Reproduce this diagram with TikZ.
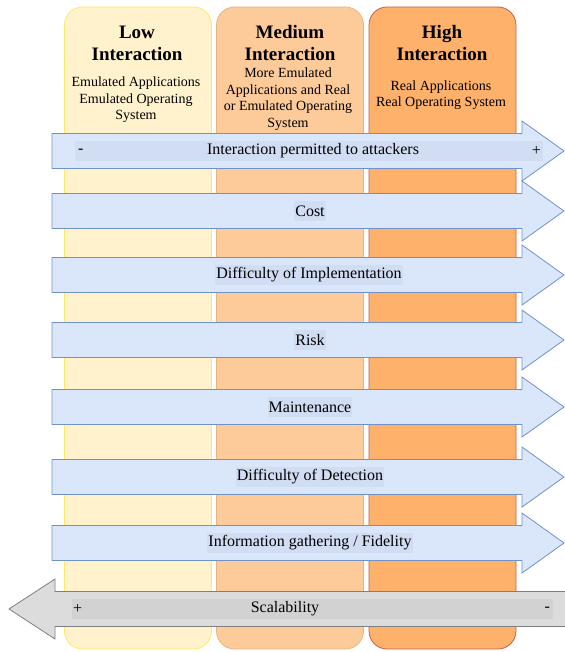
\documentclass[tikz,border=0pt]{standalone}
\usepackage{fontspec}
\setmainfont{Liberation Serif}
\usepackage{xcolor}

\definecolor{lowfill}{HTML}{FFF2CC}
\definecolor{lowline}{HTML}{FFE866}
\definecolor{medfill}{HTML}{FDCA9A}
\definecolor{medline}{HTML}{E8B57E}
\definecolor{highfill}{HTML}{FDB16B}
\definecolor{highline}{HTML}{C0604D}
\definecolor{arrfill}{HTML}{DAE7FA}
\definecolor{arrline}{HTML}{7092C8}
\definecolor{arrband}{HTML}{D0DDF2}
\definecolor{scalfill}{HTML}{DCDCDC}
\definecolor{scalline}{HTML}{7F7F7F}
\definecolor{scalband}{HTML}{D2D2D2}

\begin{document}
\begin{tikzpicture}[x=1pt,y=-1pt]
\useasboundingbox (0,0) rectangle (564,652);
\tikzstyle{column}=[rectangle,rounded corners=18pt,minimum width=147pt,minimum height=642pt,line width=0.8pt]
\tikzstyle{title}=[align=center,font=\fontsize{19}{22}\selectfont\bfseries]
\tikzstyle{sub}=[align=center,font=\fontsize{14}{16.5}\selectfont]
\tikzstyle{rarrow}=[fill=arrfill,draw=arrline,line width=0.8pt]
\tikzstyle{larrow}=[fill=scalfill,draw=scalline,line width=0.8pt]
\tikzstyle{label}=[fill=arrband,inner xsep=1pt,inner ysep=0pt,minimum height=20pt,font=\fontsize{16}{18}\selectfont]
\tikzstyle{sign}=[inner sep=0pt,font=\fontsize{16}{18}\selectfont]

\node[column,fill=lowfill,draw=lowline] (low) at (138,328) {};
\node[column,fill=medfill,draw=medline] (medium) at (290,328) {};
\node[column,fill=highfill,draw=highline] (high) at (442.5,328) {};

\node[title] (lowtitle) at (137,43) {Low\\Interaction};
\node[title] (medtitle) at (290,43) {Medium\\Interaction};
\node[title] (hightitle) at (442,43) {High\\Interaction};

\node[sub] (lowtext) at (136,100) {Emulated Applications\\Emulated Operating\\System};
\node[sub] (medtext) at (288,99) {More Emulated\\Applications and Real\\or Emulated Operating\\System};
\node[sub] (hightext) at (441,95) {Real Applications\\Real Operating System};

\draw[rarrow] (52,133.5) -- ++(470,0) -- ++(0,-12.5) -- ++(42,30) -- ++(-42,30) -- ++(0,-12.5) -- ++(-470,0) -- cycle;
\draw[rarrow] (52,193.5) -- ++(470,0) -- ++(0,-12.5) -- ++(42,30) -- ++(-42,30) -- ++(0,-12.5) -- ++(-470,0) -- cycle;
\draw[rarrow] (52,257.5) -- ++(470,0) -- ++(0,-12.5) -- ++(42,30) -- ++(-42,30) -- ++(0,-12.5) -- ++(-470,0) -- cycle;
\draw[rarrow] (52,322.5) -- ++(470,0) -- ++(0,-12.5) -- ++(42,30) -- ++(-42,30) -- ++(0,-12.5) -- ++(-470,0) -- cycle;
\draw[rarrow] (52,389.5) -- ++(470,0) -- ++(0,-12.5) -- ++(42,30) -- ++(-42,30) -- ++(0,-12.5) -- ++(-470,0) -- cycle;
\draw[rarrow] (52,459.5) -- ++(470,0) -- ++(0,-12.5) -- ++(42,30) -- ++(-42,30) -- ++(0,-12.5) -- ++(-470,0) -- cycle;
\draw[rarrow] (52,525.5) -- ++(470,0) -- ++(0,-12.5) -- ++(42,30) -- ++(-42,30) -- ++(0,-12.5) -- ++(-470,0) -- cycle;
\draw[larrow] (568,591.5) -- (55,591.5) -- ++(0,-12.5) -- ++(-46,30) -- ++(46,30) -- ++(0,-12.5) -- (568,626.5) -- cycle;

\node[label,minimum width=468pt] (intband) at (309,151) {};
\node[label,fill=none] (interaction) at (313,151) {Interaction permitted to attackers};
\node[sign,anchor=west] (intminus) at ([xshift=3pt]intband.west) {-};
\node[sign,anchor=east] (intplus) at ([xshift=-2pt]intband.east) {+};
\node[label] (cost) at (310,211) {Cost};
\node[label] (impl) at (309,275) {Difficulty of Implementation};
\node[label] (risk) at (310,340) {Risk};
\node[label] (maint) at (310,407) {Maintenance};
\node[label] (detect) at (310,477) {Difficulty of Detection};
\node[label] (info) at (310,543) {Information gathering / Fidelity};

\node[label,fill=scalband,minimum width=481pt] (scalband) at (312.5,609) {};
\node[label,fill=none] (scal) at (285,609) {Scalability};
\node[sign,anchor=west] (scalplus) at ([xshift=1pt]scalband.west) {+};
\node[sign,anchor=east] (scalminus) at ([xshift=-3pt]scalband.east) {-};
\end{tikzpicture}
\end{document}
